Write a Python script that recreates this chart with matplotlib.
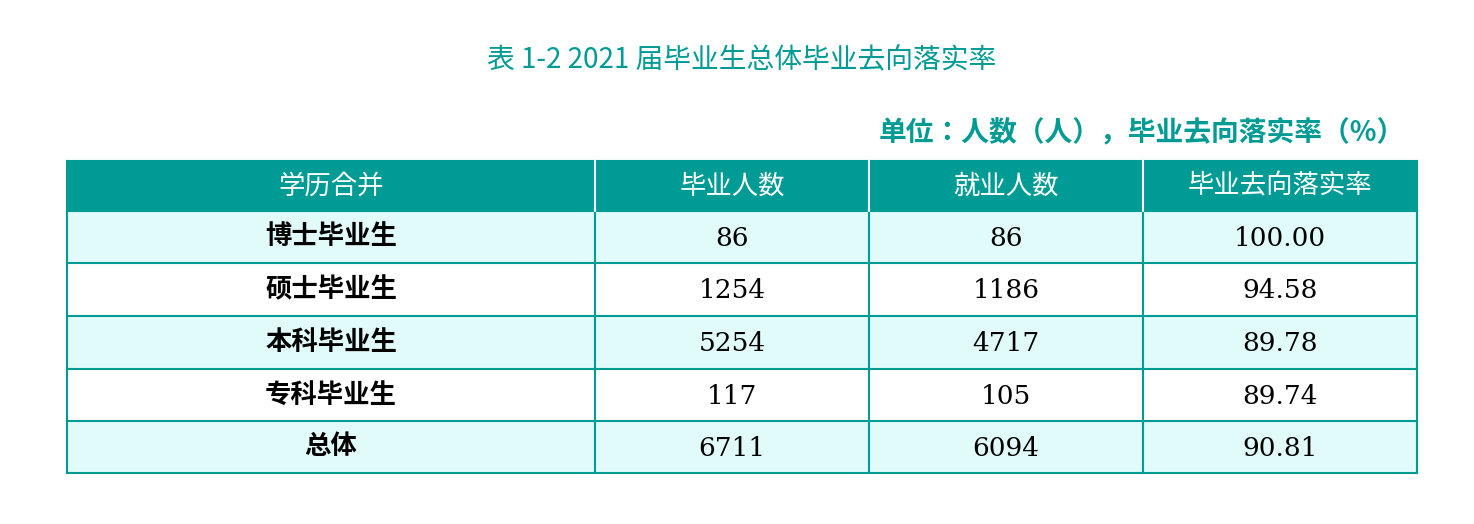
import matplotlib.pyplot as plt
from matplotlib.patches import Rectangle

cjk = ['Noto Sans CJK SC', 'Noto Sans CJK JP', 'Noto Sans CJK TC',
       'Noto Sans CJK KR', 'DejaVu Sans']
plt.rcParams['font.family'] = cjk

title = '表 1-2 2021 届毕业生总体毕业去向落实率'
unit = '单位：人数（人），毕业去向落实率（%）'
headers = ['学历合并', '毕业人数', '就业人数', '毕业去向落实率']
categories = ['博士毕业生', '硕士毕业生', '本科毕业生', '专科毕业生', '总体']
graduates = [86, 1254, 5254, 117, 6711]
employed = [86, 1186, 4717, 105, 6094]
rates = ['100.00', '94.58', '89.78', '89.74', '90.81']

teal = '#009b95'
light = '#e0fbf9'

W, H = 1474, 524
fig = plt.figure(figsize=(W / 100, H / 100), dpi=100)
ax = fig.add_axes([0, 0, 1, 1])
ax.set_xlim(0, W)
ax.set_ylim(H, 0)
ax.axis('off')

col_x = [67, 595, 869, 1143, 1417]
row_y = [161, 211, 263, 316, 369, 421, 473]

ax.text(742, 60, title, ha='center', va='center', fontsize=20, color=teal)
ax.text(1405, 133, unit, ha='right', va='center', fontsize=20, color=teal,
        fontweight='bold')

# header
ax.add_patch(Rectangle((col_x[0], row_y[0]), col_x[-1] - col_x[0],
                       row_y[1] - row_y[0], facecolor=teal, edgecolor='none'))
for j, h in enumerate(headers):
    ax.text((col_x[j] + col_x[j + 1]) / 2, (row_y[0] + row_y[1]) / 2, h,
            ha='center', va='center', fontsize=19, color='white')

# body
for i, cat in enumerate(categories):
    y0, y1 = row_y[i + 1], row_y[i + 2]
    fc = light if i % 2 == 0 else 'white'
    ax.add_patch(Rectangle((col_x[0], y0), col_x[-1] - col_x[0], y1 - y0,
                           facecolor=fc, edgecolor='none'))
    yc = (y0 + y1) / 2
    ax.text((col_x[0] + col_x[1]) / 2, yc, cat, ha='center', va='center',
            fontsize=19, fontweight='bold', color='black')
    vals = [str(graduates[i]), str(employed[i]), rates[i]]
    for j, v in enumerate(vals):
        ax.text((col_x[j + 1] + col_x[j + 2]) / 2, yc + 1, v, ha='center',
                va='center', fontsize=19, color='black', family='DejaVu Serif')

# grid lines
for x in col_x:
    ax.plot([x, x], [row_y[0], row_y[-1]], color=teal, lw=1.5)
for y in row_y:
    ax.plot([col_x[0], col_x[-1]], [y, y], color=teal, lw=1.5)
# white dividers inside header
for x in col_x[1:-1]:
    ax.plot([x, x], [row_y[0], row_y[1]], color='white', lw=1.5)

fig.savefig('out.png', dpi=100)
